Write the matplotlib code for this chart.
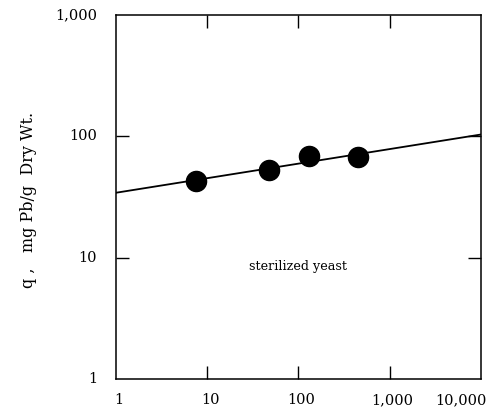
#!/usr/bin/env python3
"""Freundlich isotherm for Pb uptake on sterilized yeast (log-log)."""

import matplotlib

matplotlib.use("Agg")
import matplotlib.pyplot as plt
import numpy as np
from matplotlib.ticker import FixedLocator, NullLocator

# measured equilibrium points
conc = [7.5, 48, 131, 446]
uptake = [42.9, 52.5, 68.9, 67.3]

# fitted line q = K * C^n
fit_k = 34.3
fit_n = 0.12
fit_range = [1, 10000]

x_ticks = [1, 10, 100, 1000, 10000]
x_labels = ["1", "10", "100", "1,000", "10,000"]
y_ticks = [1, 10, 100, 1000]
y_labels = ["1", "10", "100", "1,000"]

plt.rcParams["font.family"] = ["DejaVu Serif"]

fig = plt.figure(figsize=(4.92, 4.18), dpi=100)
ax = fig.add_axes([0.2358, 0.0933, 0.7418, 0.8707])
ax.set_xscale("log")
ax.set_yscale("log")
ax.set_xlim(1, 10000)
ax.set_ylim(1, 1000)

cx = np.logspace(np.log10(fit_range[0]), np.log10(fit_range[1]), 50)
ax.plot(cx, fit_k * cx ** fit_n, color="black", lw=1.3, zorder=2)
ax.plot(conc, uptake, "o", color="black", ms=14.5, zorder=3)

ax.text(100, 8.4, "sterilized yeast", ha="center", va="center", fontsize=9.2)

# inward ticks on interior decades only, labels placed by hand
ax.xaxis.set_major_locator(FixedLocator([10, 100, 1000]))
ax.yaxis.set_major_locator(FixedLocator([10, 100]))
ax.xaxis.set_minor_locator(NullLocator())
ax.yaxis.set_minor_locator(NullLocator())
ax.tick_params(which="major", direction="in", length=9.5, width=1.0,
               top=True, right=True, labelbottom=False, labelleft=False)

for v, s in zip(x_ticks, x_labels):
    # last label pulled inside the figure edge
    dx = -20 if v == x_ticks[-1] else 3
    ax.annotate(s, xy=(v, 1), xytext=(dx, -21), textcoords="offset pixels",
                ha="center", va="center", fontsize=10.5, annotation_clip=False)
for v, s in zip(y_ticks, y_labels):
    ax.annotate(s, xy=(1, v), xytext=(-19, 0), textcoords="offset pixels",
                ha="right", va="center", fontsize=10.5, annotation_clip=False)

for sp in ax.spines.values():
    sp.set_linewidth(1.1)

fig.text(0.058, 0.522, "q ,   mg Pb/g  Dry Wt.", rotation=90,
         ha="center", va="center", fontsize=11.5)

fig.savefig("out.png", dpi=100)
